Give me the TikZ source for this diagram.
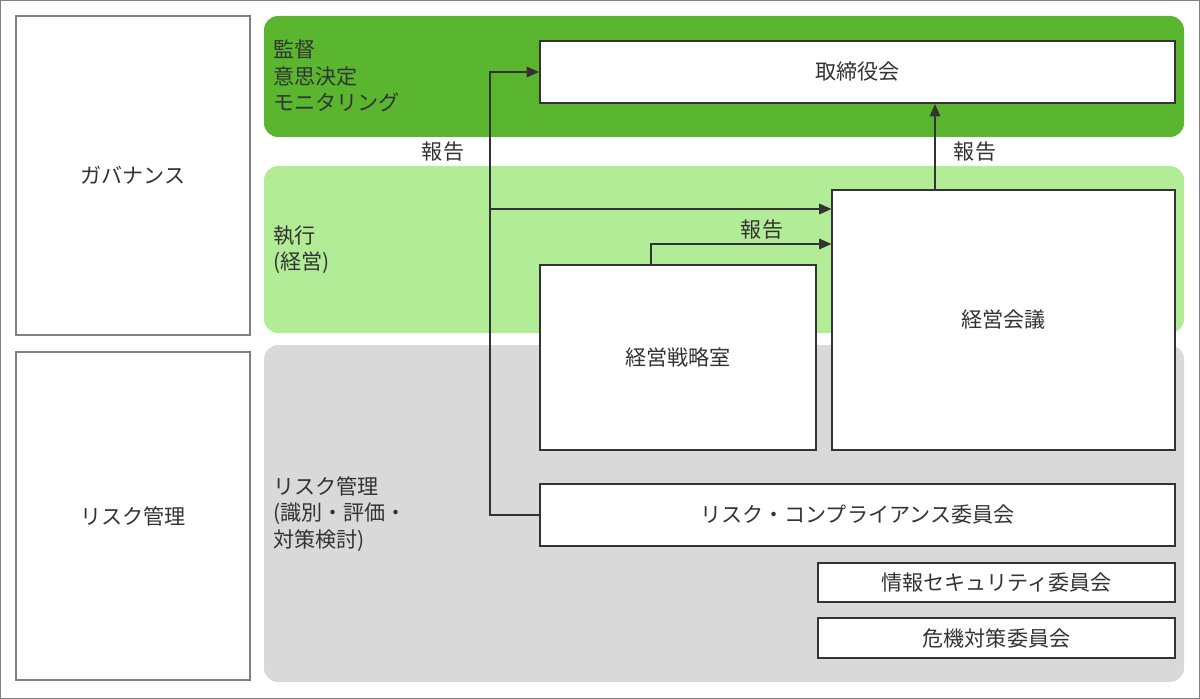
\documentclass[tikz,border=0pt]{standalone}
\usepackage{fontspec}
\setmainfont{Noto Sans CJK JP}
\usetikzlibrary{arrows.meta}
\definecolor{dg}{HTML}{5AB52F}
\definecolor{lg}{HTML}{B3EC97}
\definecolor{gr}{HTML}{D9D9D9}
\definecolor{tx}{HTML}{333333}
\begin{document}
\begin{tikzpicture}[x=0.02cm,y=-0.02cm,font=\fontsize{12pt}{15pt}\selectfont,text=tx,
 box/.style={draw=tx,fill=white,line width=0.6pt},
 band/.style={rounded corners=8pt},
 lab/.style={anchor=west,align=left,inner sep=0pt},
 arr/.style={draw=tx,line width=0.8pt,-{Triangle[length=7pt,width=6pt]}}]
\useasboundingbox (0,0) rectangle (1200,699);
\draw[draw=gray,fill=white] (0.5,0.5) rectangle (1199.5,698.5);
\draw[box,draw=gray] (16,16) rectangle (250,335) node[midway,text=tx] (gov) {ガバナンス};
\draw[box,draw=gray] (16,352) rectangle (250,680) node[midway,text=tx] (risk) {リスク管理};
\fill[dg,band] (264,16) rectangle (1184,137);
\fill[lg,band] (264,166) rectangle (1184,333);
\fill[gr,band] (264,345) rectangle (1184,682);
\node[lab] (l1) at (273,76) {\fontsize{12pt}{15pt}\selectfont 監督\\意思決定\\モニタリング};
\node[lab] (l2) at (273,250) {\fontsize{12pt}{15pt}\selectfont 執行\\(経営)};
\node[lab] (l3) at (273,514) {\fontsize{12pt}{15pt}\selectfont リスク管理\\(識別・評価・\\対策検討)};
\node[box,line width=1.2pt,minimum width=635*0.02cm,minimum height=62*0.02cm] (bod) at (857.5,72) {取締役会};
\node[box,minimum width=343*0.02cm,minimum height=260*0.02cm] (mm) at (1003.5,320) {経営会議};
\node[box,minimum width=276*0.02cm,minimum height=185*0.02cm] (sp) at (678,357.5) {経営戦略室};
\node[box,minimum width=635*0.02cm,minimum height=62*0.02cm] (rc) at (857.5,515) {リスク・コンプライアンス委員会};
\node[box,minimum width=357*0.02cm,minimum height=39*0.02cm] (is) at (996.5,582.5) {情報セキュリティ委員会};
\node[box,minimum width=357*0.02cm,minimum height=40*0.02cm] (cr) at (996.5,638) {危機対策委員会};
\coordinate (j) at (490,209);
\draw[arr] (rc.west) -- (490,515) -- (490,72) -- (bod.west);
\draw[arr] (j) -- (mm.west |- j);
\draw[arr] (sp.north -| 651,0) -- (651,244) -- (mm.west |- 0,244);
\draw[arr] (mm.north -| 935,0) -- (bod.south -| 935,0);
\node (r1) at (443,152) {報告};
\node (r2) at (762,230) {報告};
\node (r3) at (975,152) {報告};
\end{tikzpicture}
\end{document}
